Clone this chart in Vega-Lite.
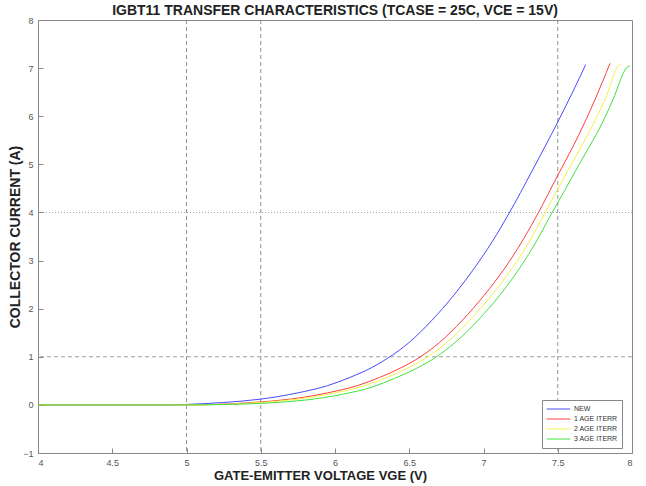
{
  "$schema": "https://vega.github.io/schema/vega-lite/v6.json",
  "autosize": "none",
  "width": 594,
  "height": 433,
  "padding": {"left": 38, "top": 20, "right": 14, "bottom": 33},
  "background": "white",
  "config": {
    "font": "Liberation Sans",
    "view": {"stroke": "#888888", "strokeWidth": 1},
    "axis": {"domainColor": "#888888", "tickColor": "#888888", "labelColor": "#555555", "labelFontSize": 9, "grid": false, "titleFontWeight": "bold", "titleColor": "#222222"}
  },
  "title": {"text": "IGBT11 TRANSFER CHARACTERISTICS (TCASE = 25C, VCE = 15V)", "fontSize": 14, "fontWeight": "bold", "color": "#222222", "anchor": "middle", "offset": -2},
  "datasets": {
    "curves": [
      {"series": "NEW", "v": 4.0, "i": 0}, {"series": "NEW", "v": 4.5, "i": 0}, {"series": "NEW", "v": 4.9, "i": 0}, {"series": "NEW", "v": 5.0, "i": 0.01}, {"series": "NEW", "v": 5.25, "i": 0.05}, {"series": "NEW", "v": 5.5, "i": 0.12}, {"series": "NEW", "v": 5.75, "i": 0.25}, {"series": "NEW", "v": 5.95, "i": 0.40}, {"series": "NEW", "v": 6.1, "i": 0.57}, {"series": "NEW", "v": 6.25, "i": 0.78}, {"series": "NEW", "v": 6.37, "i": 1.0}, {"series": "NEW", "v": 6.5, "i": 1.3}, {"series": "NEW", "v": 6.65, "i": 1.75}, {"series": "NEW", "v": 6.8, "i": 2.28}, {"series": "NEW", "v": 6.94, "i": 2.85}, {"series": "NEW", "v": 7.06, "i": 3.4}, {"series": "NEW", "v": 7.17, "i": 3.97}, {"series": "NEW", "v": 7.33, "i": 4.88}, {"series": "NEW", "v": 7.5, "i": 5.88}, {"series": "NEW", "v": 7.6, "i": 6.5}, {"series": "NEW", "v": 7.688, "i": 7.07},
      {"series": "1 AGE ITERR", "v": 4.0, "i": 0}, {"series": "1 AGE ITERR", "v": 5.0, "i": 0}, {"series": "1 AGE ITERR", "v": 5.2, "i": 0.01}, {"series": "1 AGE ITERR", "v": 5.45, "i": 0.05}, {"series": "1 AGE ITERR", "v": 5.7, "i": 0.12}, {"series": "1 AGE ITERR", "v": 5.95, "i": 0.25}, {"series": "1 AGE ITERR", "v": 6.15, "i": 0.40}, {"series": "1 AGE ITERR", "v": 6.3, "i": 0.57}, {"series": "1 AGE ITERR", "v": 6.45, "i": 0.78}, {"series": "1 AGE ITERR", "v": 6.575, "i": 1.0}, {"series": "1 AGE ITERR", "v": 6.705, "i": 1.3}, {"series": "1 AGE ITERR", "v": 6.855, "i": 1.75}, {"series": "1 AGE ITERR", "v": 7.005, "i": 2.28}, {"series": "1 AGE ITERR", "v": 7.145, "i": 2.85}, {"series": "1 AGE ITERR", "v": 7.26, "i": 3.4}, {"series": "1 AGE ITERR", "v": 7.365, "i": 3.97}, {"series": "1 AGE ITERR", "v": 7.5, "i": 4.77}, {"series": "1 AGE ITERR", "v": 7.64, "i": 5.6}, {"series": "1 AGE ITERR", "v": 7.75, "i": 6.34}, {"series": "1 AGE ITERR", "v": 7.852, "i": 7.1},
      {"series": "2 AGE ITERR", "v": 4.0, "i": 0}, {"series": "2 AGE ITERR", "v": 5.0, "i": 0}, {"series": "2 AGE ITERR", "v": 5.25, "i": 0.01}, {"series": "2 AGE ITERR", "v": 5.5, "i": 0.05}, {"series": "2 AGE ITERR", "v": 5.75, "i": 0.12}, {"series": "2 AGE ITERR", "v": 6.0, "i": 0.25}, {"series": "2 AGE ITERR", "v": 6.2, "i": 0.40}, {"series": "2 AGE ITERR", "v": 6.35, "i": 0.57}, {"series": "2 AGE ITERR", "v": 6.5, "i": 0.78}, {"series": "2 AGE ITERR", "v": 6.625, "i": 1.0}, {"series": "2 AGE ITERR", "v": 6.755, "i": 1.3}, {"series": "2 AGE ITERR", "v": 6.905, "i": 1.75}, {"series": "2 AGE ITERR", "v": 7.055, "i": 2.28}, {"series": "2 AGE ITERR", "v": 7.195, "i": 2.85}, {"series": "2 AGE ITERR", "v": 7.31, "i": 3.4}, {"series": "2 AGE ITERR", "v": 7.41, "i": 3.97}, {"series": "2 AGE ITERR", "v": 7.55, "i": 4.77}, {"series": "2 AGE ITERR", "v": 7.706, "i": 5.64}, {"series": "2 AGE ITERR", "v": 7.82, "i": 6.36}, {"series": "2 AGE ITERR", "v": 7.915, "i": 7.07}, {"series": "2 AGE ITERR", "v": 7.93, "i": 7.09},
      {"series": "3 AGE ITERR", "v": 4.0, "i": 0}, {"series": "3 AGE ITERR", "v": 5.0, "i": 0}, {"series": "3 AGE ITERR", "v": 5.3, "i": 0.01}, {"series": "3 AGE ITERR", "v": 5.55, "i": 0.04}, {"series": "3 AGE ITERR", "v": 5.8, "i": 0.10}, {"series": "3 AGE ITERR", "v": 6.05, "i": 0.22}, {"series": "3 AGE ITERR", "v": 6.25, "i": 0.37}, {"series": "3 AGE ITERR", "v": 6.4, "i": 0.55}, {"series": "3 AGE ITERR", "v": 6.55, "i": 0.76}, {"series": "3 AGE ITERR", "v": 6.683, "i": 1.0}, {"series": "3 AGE ITERR", "v": 6.81, "i": 1.3}, {"series": "3 AGE ITERR", "v": 6.96, "i": 1.75}, {"series": "3 AGE ITERR", "v": 7.11, "i": 2.28}, {"series": "3 AGE ITERR", "v": 7.245, "i": 2.85}, {"series": "3 AGE ITERR", "v": 7.36, "i": 3.42}, {"series": "3 AGE ITERR", "v": 7.455, "i": 3.96}, {"series": "3 AGE ITERR", "v": 7.54, "i": 4.42}, {"series": "3 AGE ITERR", "v": 7.617, "i": 4.85}, {"series": "3 AGE ITERR", "v": 7.7, "i": 5.3}, {"series": "3 AGE ITERR", "v": 7.773, "i": 5.7}, {"series": "3 AGE ITERR", "v": 7.874, "i": 6.36}, {"series": "3 AGE ITERR", "v": 7.953, "i": 6.96}, {"series": "3 AGE ITERR", "v": 7.97, "i": 7.03}, {"series": "3 AGE ITERR", "v": 7.985, "i": 7.04}
    ],
    "vlines": [{"v": 5.0}, {"v": 5.5}, {"v": 7.5}],
    "hlines": [{"i": 1.0, "dash": "dashed"}, {"i": 4.0, "dash": "dotted"}]
  },
  "layer": [
    {
      "data": {"name": "vlines"},
      "mark": {"type": "rule", "color": "#777777", "strokeDash": [4, 3], "strokeWidth": 0.8},
      "encoding": {
        "x": {"field": "v", "type": "quantitative", "scale": {"domain": [4, 8], "nice": false},
          "axis": {"title": "GATE-EMITTER VOLTAGE VGE (V)", "titleFontSize": 13, "titleX": 282, "values": [4, 4.5, 5, 5.5, 6, 6.5, 7, 7.5, 8], "format": "~g", "tickSize": -5, "labelPadding": 10, "titlePadding": 2}}
      }
    },
    {
      "data": {"name": "hlines"},
      "mark": {"type": "rule", "color": "#888888", "strokeWidth": 0.8},
      "encoding": {
        "y": {"field": "i", "type": "quantitative", "scale": {"domain": [-1, 8], "nice": false},
          "axis": {"title": "COLLECTOR CURRENT (A)", "titleFontSize": 14, "values": [-1, 0, 1, 2, 3, 4, 5, 6, 7, 8], "tickSize": -5, "labelPadding": 10, "titlePadding": 0}},
        "strokeDash": {"field": "dash", "type": "nominal", "scale": {"domain": ["dashed", "dotted"], "range": [[4, 3], [1, 2]]}, "legend": null}
      }
    },
    {
      "data": {"name": "curves"},
      "mark": {"type": "line", "strokeWidth": 1, "interpolate": "monotone"},
      "encoding": {
        "x": {"field": "v", "type": "quantitative"},
        "y": {"field": "i", "type": "quantitative"},
        "order": {"field": "v", "type": "quantitative"},
        "color": {"field": "series", "type": "nominal",
          "scale": {"domain": ["NEW", "1 AGE ITERR", "2 AGE ITERR", "3 AGE ITERR"], "range": ["#4a4aff", "#ff4040", "#f2f24a", "#40e040"]},
          "legend": {"title": null, "orient": "none", "legendX": 504, "legendY": 380, "symbolType": "stroke", "symbolSize": 550, "symbolStrokeWidth": 1, "labelFontSize": 7, "labelColor": "#333333", "clipHeight": 10, "rowPadding": 0, "padding": 4, "strokeColor": "#888888", "fillColor": "white", "labelOffset": 3}
        }
      }
    }
  ]
}
